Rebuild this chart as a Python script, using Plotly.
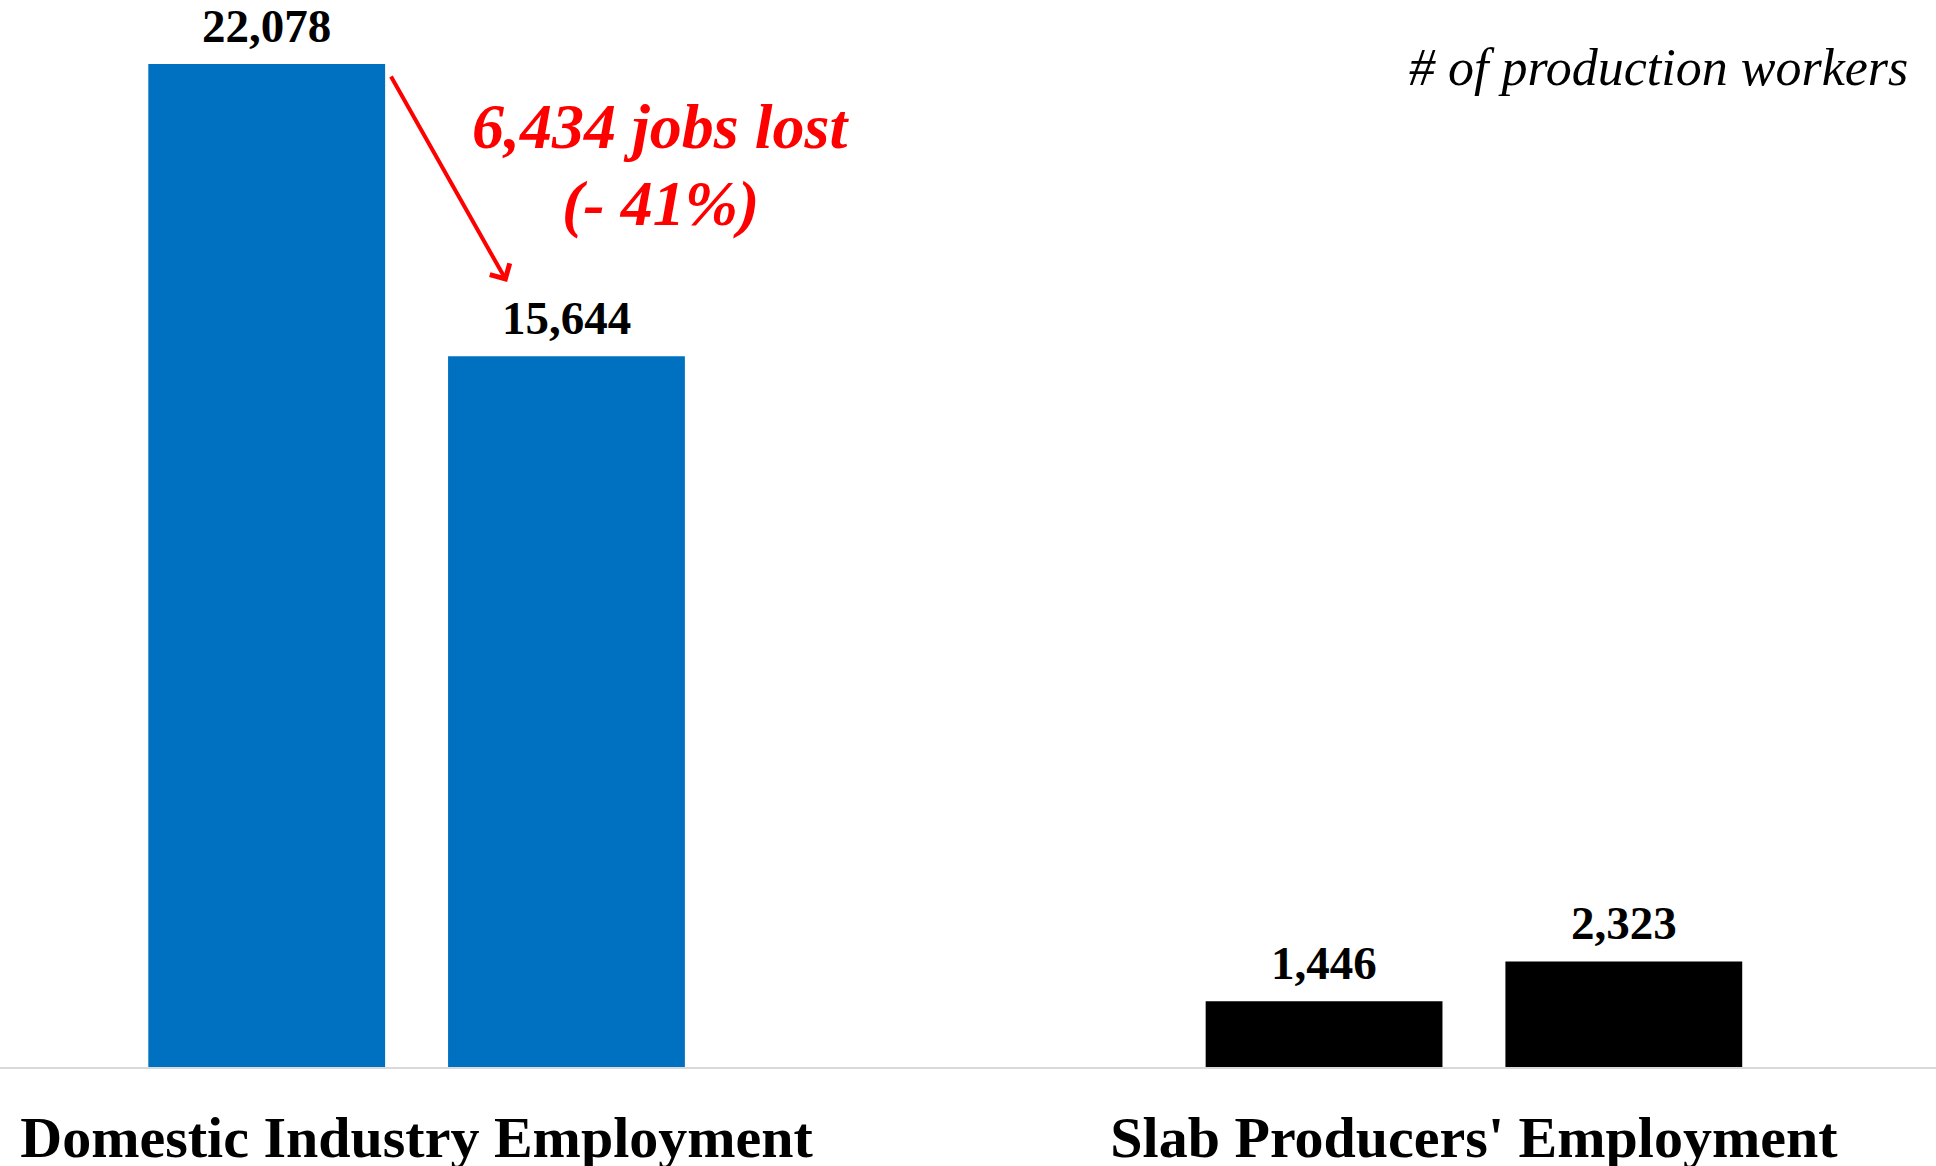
import plotly.graph_objects as go

categories = ["Domestic Industry Employment", "Slab Producers' Employment"]
period_1 = [22078, 1446]
period_2 = [15644, 2323]
bar_colors = ["#0070C0", "#000000"]

loss_line_1 = "6,434 jobs lost"
loss_line_2 = "(- 41%)"
unit_note = "# of production workers"

BARGAP = 0.433
BARGROUPGAP = 0.21
n_series = 2
slot = (1 - BARGAP) / n_series  # category units per series slot

fig = go.Figure()
series = [("Period 1", period_1), ("Period 2", period_2)]
for name, vals in series:
    fig.add_trace(go.Bar(
        x=categories, y=vals, name=name,
        marker=dict(color=bar_colors, line=dict(width=0)),
        cliponaxis=False,
    ))

annotations = []
# value labels above each bar
for s_idx, (name, vals) in enumerate(series):
    offset = (s_idx - (n_series - 1) / 2) * slot
    for c_idx, v in enumerate(vals):
        annotations.append(dict(
            x=c_idx + offset, y=v, xref="x", yref="y", text=f"{v:,}",
            showarrow=False, xanchor="center", yanchor="middle", yshift=38,
            font=dict(family="Liberation Serif", size=47, color="black", weight="bold"),
        ))

red_font = dict(family="Liberation Serif", size=64, color="#FF0000", weight="bold", style="italic")
annotations += [
    dict(x=0.231, y=20705, xref="x", yref="y", text=loss_line_1, showarrow=False,
         xanchor="center", yanchor="middle", font=red_font),
    dict(x=0.231, y=19010, xref="x", yref="y", text=loss_line_2, showarrow=False,
         xanchor="center", yanchor="middle", font=red_font),
    dict(x=0.0856, y=17280, xref="x", yref="y", ax=-0.025, ay=21836,
         axref="x", ayref="y", text="", showarrow=True, arrowhead=4,
         arrowsize=1.1, arrowwidth=4, arrowcolor="#FF0000"),
    dict(x=1910 / 1936, y=1 - 68 / 1067, xref="paper", yref="paper", text=unit_note,
         showarrow=False, xanchor="right", yanchor="middle",
         font=dict(family="Liberation Serif", size=52, color="black", style="italic")),
]

fig.update_layout(
    width=1936, height=1166,
    margin=dict(l=0, r=0, t=0, b=99),
    paper_bgcolor="white", plot_bgcolor="white",
    barmode="group", bargap=BARGAP, bargroupgap=BARGROUPGAP,
    showlegend=False,
    xaxis=dict(type="category", range=[-0.394, 1.437], showline=True,
               linecolor="#d9d9d9", linewidth=2, showgrid=False, ticks="",
               tickfont=dict(family="Liberation Serif", size=58, color="black", weight="bold"),
               ticklabelstandoff=18, automargin=False),
    yaxis=dict(range=[0, 23487], visible=False, showgrid=False, zeroline=False),
    annotations=annotations,
)

fig.write_html("out.html")
